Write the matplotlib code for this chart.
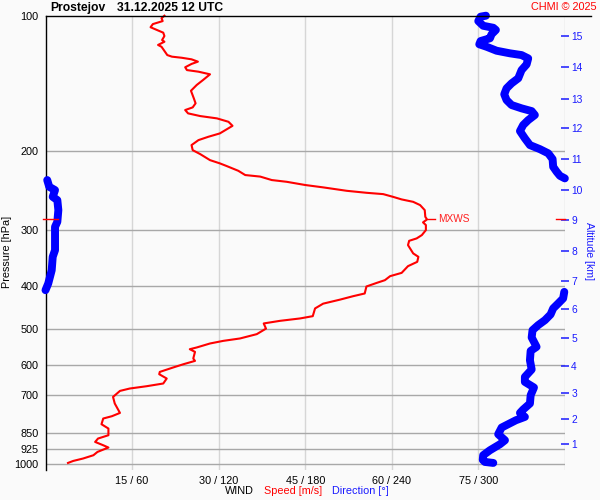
import numpy as np
import matplotlib
matplotlib.use("Agg")
import matplotlib.pyplot as plt
from matplotlib.ticker import NullLocator, FixedLocator

plt.rcParams['font.family'] = ['Liberation Sans', 'DejaVu Sans']

# ---------------- data ----------------
station = "Prostejov"
stamp = "31.12.2025 12 UTC"

# wind speed profile [m/s] vs pressure [hPa]
sp_p = [100, 101.3, 102.8, 104.4, 106.1, 107.6, 109.1, 111.0, 113.3, 114.3,
        116.2, 117.3, 119.3, 122.4, 123.4, 124.1, 125.1, 126.6, 128.1, 130.3,
        132.2, 133.3, 135.1, 139.1, 142.7, 147.0, 152.9, 156.8, 160.1, 162.3,
        165.1, 167.4, 169.4, 172.4, 176.0, 183.0, 186.2, 189.4, 194.3, 199.4,
        203.5, 209.9, 213.4, 216.4, 221.7, 226.6, 228.4, 232.5, 234.6, 238.5,
        241.4, 245.7, 248.2, 249.9, 253.4, 256.8, 260.0, 264.4, 271.3, 280.8,
        284.6, 288.9, 292.9, 300.6, 308.4, 313.7, 317.6, 324.7, 338.8, 344.8,
        353.8, 361.7, 374.4, 380.8, 388.7, 394.1, 401.5, 416.2, 422.0, 429.6,
        438.5, 449.4, 467.6, 473.1, 479.0, 485.4, 498.5, 512.8, 524.3, 530.8,
        538.0, 549.1, 554.0, 561.7, 581.1, 588.3, 598.4, 608.6, 622.5, 629.9,
        644.0, 660.7, 670.0, 677.9, 686.3, 707.8, 732.2, 768.4, 781.5, 790.8,
        814.3, 832.5, 861.6, 876.4, 891.8, 907.1, 917.8, 938.8, 954.8, 971.1,
        983.2, 993.3]
sp_v = [20.6, 20.1, 20.3, 18.6, 18.2, 19.3, 20.4, 20.6, 20.2, 20.6,
        19.5, 20.1, 20.5, 21.1, 21.9, 23.6, 25.3, 26.4, 25.3, 24.2,
        24.5, 26.5, 28.5, 27.3, 26.2, 25.2, 25.7, 26.0, 25.5, 24.2,
        24.7, 26.8, 29.7, 31.7, 32.4, 30.2, 28.2, 26.5, 25.3, 25.5,
        26.8, 28.5, 30.2, 31.4, 33.4, 34.6, 37.2, 39.2, 41.8, 45.0,
        48.1, 52.2, 55.6, 58.5, 60.2, 61.7, 63.7, 64.9, 65.7, 65.8,
        66.1, 65.4, 65.9, 65.9, 65.2, 64.3, 63.0, 62.8, 63.7, 64.6,
        64.4, 62.8, 61.7, 59.7, 58.8, 57.4, 55.6, 55.3, 53.3, 51.0,
        48.1, 46.7, 46.3, 44.1, 40.6, 37.8, 38.2, 36.6, 33.7, 30.8,
        28.5, 26.2, 25.0, 25.9, 25.6, 25.9, 23.9, 22.1, 19.8, 19.7,
        21.0, 20.4, 17.5, 14.6, 12.9, 11.7, 12.0, 12.9, 11.5, 10.0,
        9.7, 10.9, 10.9, 9.1, 8.6, 10.0, 10.9, 9.0, 8.3, 6.5,
        4.8, 3.9]

# wind direction profile [deg] vs pressure [hPa]
dir_p = [100, 100.5, 102.8, 105.3, 106.4, 107.6, 110.0, 112.3, 113.9, 115.8,
         117.3, 119.7, 121.3, 122.4, 124.5, 128.4, 132.2, 137.9, 141.5, 145.2,
         149.7, 154.2, 158.2, 160.9, 163.2, 166.5, 170.9, 175.3, 180.8, 187.7,
         194.3, 198.4, 202.7, 208.8, 217.2, 222.8, 227.5, 230.5,
         232.5, 240.7, 244.8, 253.4, 257.7, 271.3, 288.1, 295.6, 311.2, 333.2,
         344.8, 369.3, 382.2, 395.4, 409.2,
         412.8, 426.9, 438.0, 449.4, 463.5, 477.3, 489.6, 502.4, 521.6, 547.4,
         558.8, 586.2, 614.9, 638.7, 655.3, 674.4, 701.7, 732.2, 755.1, 768.4,
         784.3, 797.8, 814.3, 828.3, 857.2, 884.2, 902.5, 930.6, 954.8, 978.0,
         988.3, 993.3]
dir_d = [305.2, 301.5, 299.9, 303.3, 310.3, 312.1, 309.1, 308.0, 301.5, 300.6,
         305.7, 312.6, 321.8, 329.9, 334.5, 333.4, 329.9, 327.6, 323.0, 319.5,
         317.9, 319.5, 323.0, 329.9, 336.9, 339.1, 334.5, 331.0, 328.8, 332.2,
         335.7, 342.6, 348.4, 351.4, 351.8, 354.2, 356.5, 359.9,
         1.2, 2.6, 6.6, 5.0, 8.2, 8.9, 8.2, 6.6, 6.6, 6.6,
         5.0, 4.3, 3.1, 1.9, 0.0,
         359.5, 358.7, 355.3, 351.8, 350.0, 346.1, 341.4, 337.5, 336.9, 340.3,
         336.2, 335.7, 336.9, 332.2, 332.2, 338.5, 336.2, 335.7, 331.0, 328.8,
         332.2, 326.0, 320.6, 316.1, 313.7, 318.4, 314.9, 308.0, 303.3, 303.0,
         304.5, 310.3]

p_ticks = [100, 200, 300, 400, 500, 600, 700, 850, 925, 1000]
x_ticks = [15, 30, 45, 60, 75]
x_labels = ["15 / 60", "30 / 120", "45 / 180", "60 / 240", "75 / 300"]
alt_km = [1, 2, 3, 4, 5, 6, 7, 8, 9, 10, 11, 12, 13, 14, 15]
alt_p = [902.3, 790.9, 693.3, 604.5, 522.9, 451.8, 391.2, 334.9, 285.6,
         244.8, 209.1, 178.3, 153.1, 130.3, 110.8]

# ---------------- figure ----------------
W, H = 600, 500
bg = '#fafafa'
fig = plt.figure(figsize=(6, 5), dpi=100, facecolor=bg)
ax = fig.add_axes([45.5 / W, 1 - 470 / H, 519.5 / W, (470 - 15.7) / H])
ax.set_facecolor(bg)
ax.set_yscale('log')
ax.set_ylim(1030, 100)
ax.set_xlim(0, 90)

for s in ['top', 'right', 'bottom']:
    ax.spines[s].set_visible(False)
ax.spines['left'].set_color('black')
ax.spines['left'].set_linewidth(1.0)

# grid
for xv in [15, 30, 45, 60, 75, 90]:
    ax.axvline(xv, color='#d6d6d6', lw=1.0, zorder=1)
for pv in p_ticks[1:]:
    ax.axhline(pv, color='#a8a8a8', lw=1.0, zorder=1)

ax.yaxis.set_major_locator(FixedLocator(p_ticks))
ax.yaxis.set_minor_locator(NullLocator())
ax.set_yticklabels([str(v) for v in p_ticks])
ax.set_xticks(x_ticks)
ax.set_xticklabels(x_labels)
ax.tick_params(axis='both', length=0, labelsize=7.8, colors='black')
ax.tick_params(axis='y', pad=5)
ax.tick_params(axis='x', pad=4)

# direction (scaled: 360 deg -> 90 units)
dd = np.array(dir_d, dtype=float)
pp = np.array(dir_p, dtype=float)
xs, ys = [], []
for i in range(len(dd)):
    if i > 0 and abs(dd[i] - dd[i - 1]) > 180:
        xs.append(np.nan)
        ys.append(np.nan)
    xs.append(dd[i] / 4.0)
    ys.append(pp[i])
ax.plot(xs, ys, color='#0000ff', lw=5.7, solid_capstyle='round',
        solid_joinstyle='round', zorder=3, clip_on=False)

# speed
ax.plot(sp_v, sp_p, color='#ff0000', lw=1.5, zorder=4, clip_on=False)

# max wind marker
imax = int(np.argmax(sp_v))
vmax, pmax = sp_v[imax], sp_p[imax]
ax.plot([vmax + 0.2, vmax + 1.4], [pmax, pmax], color='#ff0000', lw=1.0, zorder=4)
ax.text(vmax + 1.9, pmax, "MXWS", color='#ff2020', fontsize=7.3,
        va='center', ha='left', zorder=5)
ax.plot([-0.45, 2.2], [pmax, pmax], color='#ff0000', lw=1.0, zorder=5, clip_on=False)

# top line
ax.plot([0, (591 - 45.5) / 519.5], [1, 1], transform=ax.transAxes,
        color='black', lw=1.0, clip_on=False, zorder=6)

# altitude axis
ax2 = ax.twinx()
ax2.set_yscale('log')
ax2.set_ylim(ax.get_ylim())
for s in ax2.spines.values():
    s.set_visible(False)
ax2.yaxis.set_major_locator(FixedLocator(alt_p))
ax2.yaxis.set_minor_locator(NullLocator())
ax2.set_yticklabels([str(k) for k in alt_km])
ax2.tick_params(axis='y', direction='inout', length=6, width=1.1,
                colors='#1a1aff', labelsize=7.4, pad=1.5)
ax2.plot([88.4, 90], [pmax, pmax], color='#ff0000', lw=1.0, zorder=6, clip_on=False)

# texts
fig.text(50 / W, 1 - 11 / H, station, fontsize=8.7, fontweight='bold',
         ha='left', va='baseline')
fig.text(116.7 / W, 1 - 11 / H, stamp, fontsize=8.7, fontweight='bold',
         ha='left', va='baseline')
fig.text(597 / W, 1 - 10 / H, "CHMI \u00a9 2025", fontsize=7.8, color='#ff0000',
         ha='right', va='baseline')
fig.text(7.5 / W, 1 - 252 / H, "Pressure [hPa]", fontsize=7.8, rotation=90,
         ha='center', va='center')
fig.text(589 / W, 1 - 251.5 / H, "Altitude [km]", fontsize=7.6, rotation=270,
         color='#1a1aff', ha='center', va='center')
fig.text(225 / W, 1 - 491.5 / H, "WIND", fontsize=7.8, ha='left', va='center')
fig.text(264 / W, 1 - 491.5 / H, "Speed [m/s]", fontsize=7.8, color='#ff0000',
         ha='left', va='center')
fig.text(332 / W, 1 - 491.5 / H, "Direction [\u00b0]", fontsize=7.8, color='#1a1aff',
         ha='left', va='center')

fig.savefig("out.png", dpi=100, facecolor=bg)
